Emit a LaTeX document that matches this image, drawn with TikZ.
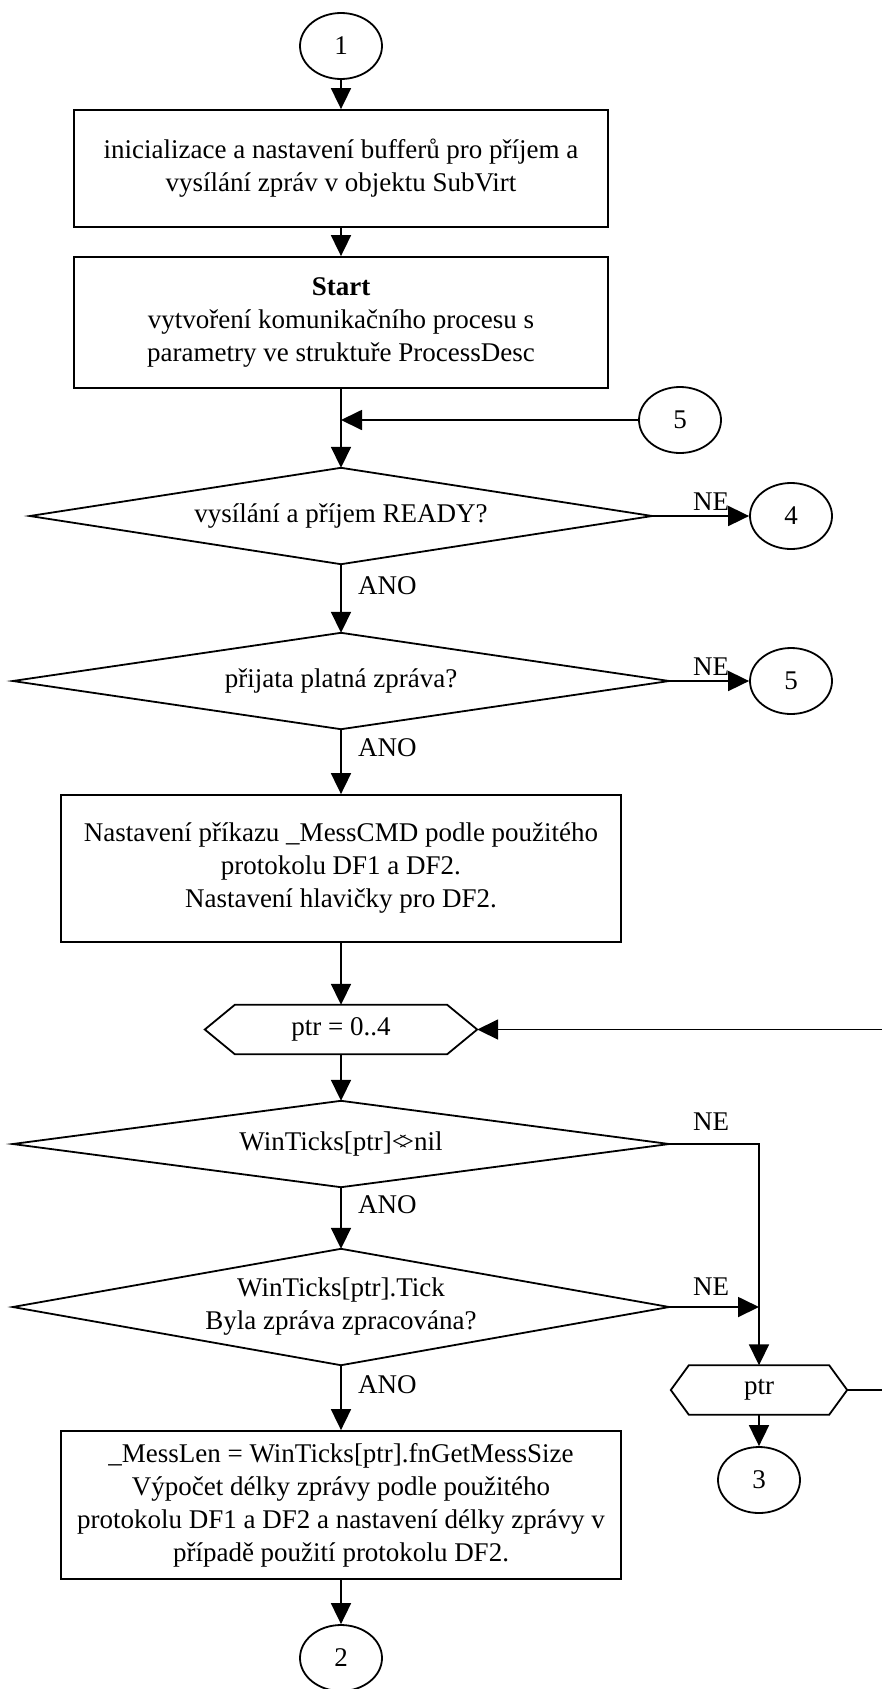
\documentclass[tikz,border=0pt]{standalone}
\usepackage{fontspec}
\setmainfont{Liberation Serif}
\usetikzlibrary{arrows.meta,shapes.geometric}

% hexagonal loop-limit frame around a named node: #1 node name, #2 corner inset
\newcommand\hexframe[2]{%
  \draw[line] ([xshift=#2]#1.north west) -- ([xshift=-#2]#1.north east) -- (#1.east)
    -- ([xshift=-#2]#1.south east) -- ([xshift=#2]#1.south west) -- (#1.west) -- cycle;}
% diamond decision frame around a named node
\newcommand\decframe[1]{%
  \draw[line] (#1.north) -- (#1.east) -- (#1.south) -- (#1.west) -- cycle;}

\begin{document}
\begin{tikzpicture}[x=1pt,y=-1pt,
  every node/.style={font=\fontsize{27}{33}\selectfont, inner sep=0pt, align=center},
  line/.style={line width=1.8pt},
  arr/.style={line, -{Triangle[length=21pt,width=20pt]}},
  conn/.style={ellipse, draw, line width=1.8pt, minimum width=82pt, minimum height=66pt},
  procbox/.style={rectangle, draw, line width=1.8pt},
  area/.style={rectangle, draw=none},
  lbl/.style={anchor=center}
]
\useasboundingbox (0,0) rectangle (882,1689);

% connectors (circles)
\node[conn] (c1) at (341,46) {1};
\node[conn] (c5a) at (680,420) {5};
\node[conn] (c4) at (791,516) {4};
\node[conn] (c5b) at (791,681) {5};
\node[conn] (c3) at (759,1480) {3};
\node[conn] (c2) at (341,1658) {2};

% process boxes
\node[procbox, minimum width=534pt, minimum height=117pt] (b1) at (341,168.5)
  {inicializace a nastavení bufferů pro příjem a\\vysílání zpráv v objektu SubVirt};
\node[procbox, minimum width=534pt, minimum height=131pt] (b2) at (341,322.5)
  {\textbf{Start}\\vytvoření komunikačního procesu s\\parametry ve struktuře ProcessDesc};
\node[procbox, minimum width=560pt, minimum height=147pt] (b3) at (341,868.5)
  {Nastavení příkazu \_MessCMD podle použitého\\protokolu DF1 a DF2.\\Nastavení hlavičky pro DF2.};
\node[procbox, minimum width=560pt, minimum height=148pt] (b4) at (341,1505)
  {\_MessLen = WinTicks[ptr].fnGetMessSize\\Výpočet délky zprávy podle použitého\\protokolu DF1 a DF2 a nastavení délky zprávy v\\případě použití protokolu DF2.};

% decisions
\node[area, minimum width=622pt, minimum height=96pt] (d1) at (341,516) {vysílání a příjem READY?};
\decframe{d1}
\node[area, minimum width=656pt, minimum height=96pt] (d2) at (341,681) {přijata platná zpráva?};
\decframe{d2}
\node[area, minimum width=656pt, minimum height=86pt] (d3) at (341,1144) {WinTicks[ptr]<\kern-.3em>nil};
\decframe{d3}
\node[area, minimum width=656pt, minimum height=116pt] (d4) at (341,1307) {WinTicks[ptr].Tick\\Byla zpráva zpracována?};
\decframe{d4}

% loop limits
\node[area, minimum width=272pt, minimum height=49pt] (h1) at (341,1029.5) {ptr = 0..4};
\hexframe{h1}{30pt}
\node[area, minimum width=176pt, minimum height=49pt] (h2) at (759,1390) {ptr};
\hexframe{h2}{18pt}

% bend points
\coordinate (j5) at (341,420);
\coordinate (k3) at (759,1144);
\coordinate (k4) at (759,1307);
\coordinate (r1) at (900,1390);
\coordinate (r2) at (900,1029.5);

% flow
\draw[arr] (c1) -- (b1);
\draw[arr] (b1) -- (b2);
\draw[arr] (b2) -- (d1.north);
\draw[arr] (c5a) -- (j5);
\draw[arr] (d1.east) -- (c4);
\draw[arr] (d1.south) -- (d2.north);
\draw[arr] (d2.east) -- (c5b);
\draw[arr] (d2.south) -- (b3);
\draw[arr] (b3) -- (h1.north);
\draw[arr] (h1.south) -- (d3.north);
\draw[arr] (d3.east) -- (k3) -- (h2.north);
\draw[arr] (d3.south) -- (d4.north);
\draw[arr] (d4.east) -- (k4);
\draw[arr] (d4.south) -- (b4);
\draw[arr] (b4) -- (c2);
\draw[arr] (h2.south) -- (c3);
\draw[arr] (h2.east) -- (r1) -- (r2) -- (h1.east);

% branch labels
\node[lbl] (ne1) at (711,502) {NE};
\node[lbl] (ne2) at (711,667) {NE};
\node[lbl] (ne3) at (711,1122) {NE};
\node[lbl] (ne4) at (711,1287) {NE};
\node[anchor=west] (ano1) at (358,586) {ANO};
\node[anchor=west] (ano2) at (358,748) {ANO};
\node[anchor=west] (ano3) at (358,1205) {ANO};
\node[anchor=west] (ano4) at (358,1385) {ANO};
\end{tikzpicture}
\end{document}
